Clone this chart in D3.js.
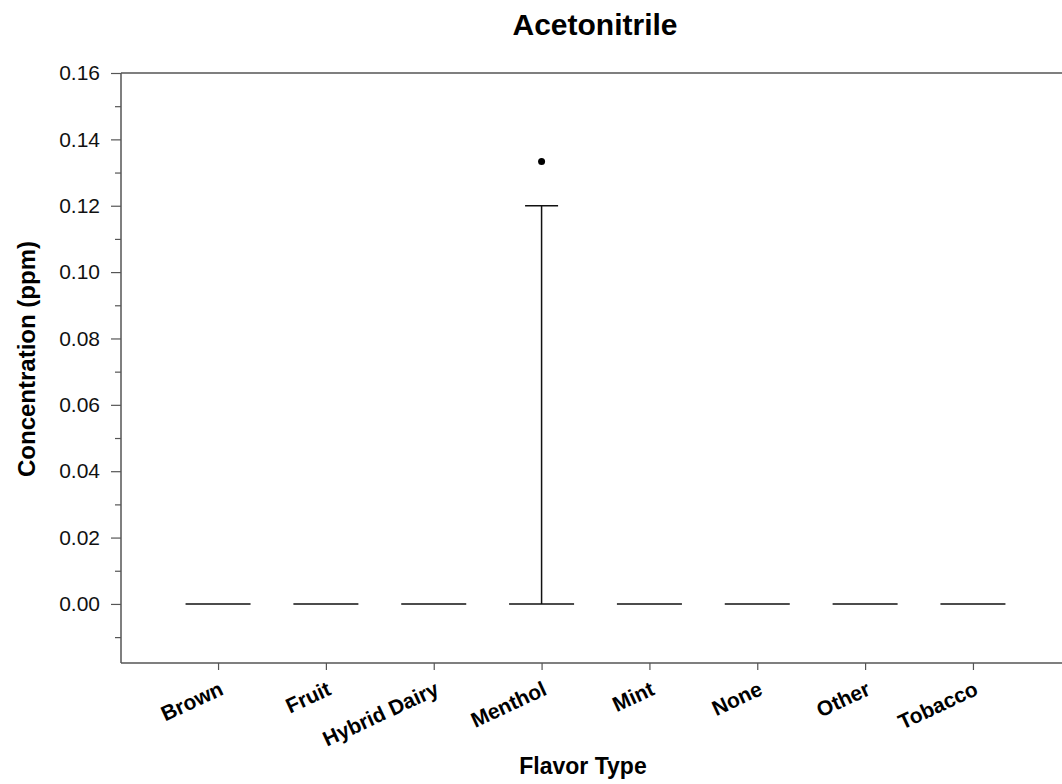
<!DOCTYPE html>
<html>
<head>
<meta charset="utf-8">
<script src="https://cdn.jsdelivr.net/npm/d3@7"></script>
<style>
  html, body { margin: 0; padding: 0; background: #fff; }
  svg { display: block; font-family: Arial, "Liberation Sans", sans-serif; }
</style>
</head>
<body>
<svg id="chart" width="1062" height="784"></svg>
<script>
const title = "Acetonitrile";
const xTitle = "Flavor Type";
const yTitle = "Concentration (ppm)";
const categories = ["Brown", "Fruit", "Hybrid Dairy", "Menthol", "Mint", "None", "Other", "Tobacco"];
const q1 =          [0, 0, 0, 0, 0, 0, 0, 0];
const median =      [0, 0, 0, 0, 0, 0, 0, 0];
const q3 =          [0, 0, 0, 0, 0, 0, 0, 0];
const whiskerLow =  [0, 0, 0, 0, 0, 0, 0, 0];
const whiskerHigh = [0, 0, 0, 0.12, 0, 0, 0, 0];
const outlierCats = ["Menthol"];
const outlierVals = [0.1333];
const yMajorTicks = [0, 0.02, 0.04, 0.06, 0.08, 0.10, 0.12, 0.14, 0.16];
const yMinorTicks = [-0.01, 0.01, 0.03, 0.05, 0.07, 0.09, 0.11, 0.13, 0.15];
const yDomain = [-0.0178, 0.16];

(function () {
const svg = d3.select("#chart");
const pLeft = 121, pRight = 1070, pTop = 73, pBottom = 663;
const axisColor = "#555";

const x = d3.scalePoint().domain(categories).range([pLeft, pRight]).padding(0.9);
const y = d3.scaleLinear().domain(yDomain).range([pBottom, pTop]);

// frame: top border
svg.append("line").attr("x1", pLeft).attr("x2", pRight).attr("y1", pTop).attr("y2", pTop)
  .attr("stroke", axisColor).attr("stroke-width", 1.5);

// Y axis
const yAxis = svg.append("g").attr("transform", `translate(${pLeft},0)`)
  .call(d3.axisLeft(y).tickValues(yMajorTicks).tickSize(10).tickPadding(11).tickFormat(d3.format(".2f")));
yAxis.select(".domain").attr("stroke", axisColor).attr("stroke-width", 1.5)
  .attr("d", `M0,${pBottom}V${pTop}`);
yAxis.selectAll(".tick line").attr("stroke", axisColor).attr("stroke-width", 1.2);
yAxis.selectAll(".tick text").attr("font-size", 21).attr("fill", "#111")
  .attr("font-family", "Arial, 'Liberation Sans', sans-serif");
const yMinor = svg.append("g").attr("transform", `translate(${pLeft},0)`)
  .call(d3.axisLeft(y).tickValues(yMinorTicks).tickSize(6).tickFormat(""));
yMinor.select(".domain").remove();
yMinor.selectAll(".tick line").attr("stroke", axisColor).attr("stroke-width", 1.2);

// X axis
const xAxis = svg.append("g").attr("transform", `translate(0,${pBottom})`)
  .call(d3.axisBottom(x).tickSize(7).tickFormat(""));
xAxis.select(".domain").attr("stroke", axisColor).attr("stroke-width", 1.5)
  .attr("d", `M${pLeft},0H${pRight}`);
xAxis.selectAll(".tick line").attr("stroke", axisColor).attr("stroke-width", 1.2);
xAxis.selectAll(".tick").append("text")
  .attr("text-anchor", "end")
  .attr("font-weight", "bold")
  .attr("font-size", 21)
  .attr("fill", "#000")
  .attr("font-family", "Arial, 'Liberation Sans', sans-serif")
  .attr("transform", "translate(6,31) rotate(-25)")
  .text(d => d);

// boxes
const boxW = 65, capW = 33;
const g = svg.append("g").attr("stroke", "#111").attr("stroke-width", 1.5).attr("fill", "none");
categories.forEach((c, i) => {
  const cx = x(c);
  if (whiskerHigh[i] > q3[i]) {
    g.append("line").attr("x1", cx).attr("x2", cx).attr("y1", y(q3[i])).attr("y2", y(whiskerHigh[i]));
    g.append("line").attr("x1", cx - capW / 2).attr("x2", cx + capW / 2)
      .attr("y1", y(whiskerHigh[i])).attr("y2", y(whiskerHigh[i]));
  }
  if (whiskerLow[i] < q1[i]) {
    g.append("line").attr("x1", cx).attr("x2", cx).attr("y1", y(q1[i])).attr("y2", y(whiskerLow[i]));
    g.append("line").attr("x1", cx - capW / 2).attr("x2", cx + capW / 2)
      .attr("y1", y(whiskerLow[i])).attr("y2", y(whiskerLow[i]));
  }
  if (q3[i] > q1[i]) {
    g.append("rect").attr("x", cx - boxW / 2).attr("width", boxW)
      .attr("y", y(q3[i])).attr("height", y(q1[i]) - y(q3[i]));
  }
  g.append("line").attr("x1", cx - boxW / 2).attr("x2", cx + boxW / 2)
    .attr("y1", y(median[i])).attr("y2", y(median[i]));
});

// outliers
svg.append("g").selectAll("circle").data(outlierVals).join("circle")
  .attr("cx", (d, i) => x(outlierCats[i]))
  .attr("cy", d => y(d))
  .attr("r", 3.5)
  .attr("fill", "#000");

// titles
svg.append("text").attr("x", 595).attr("y", 35).attr("text-anchor", "middle")
  .attr("font-weight", "bold").attr("font-size", 30).text(title);
svg.append("text").attr("x", 583).attr("y", 774).attr("text-anchor", "middle")
  .attr("font-weight", "bold").attr("font-size", 23).text(xTitle);
svg.append("text").attr("transform", "translate(35,359) rotate(-90)").attr("text-anchor", "middle")
  .attr("font-weight", "bold").attr("font-size", 24).text(yTitle);
})();
</script>
</body>
</html>
